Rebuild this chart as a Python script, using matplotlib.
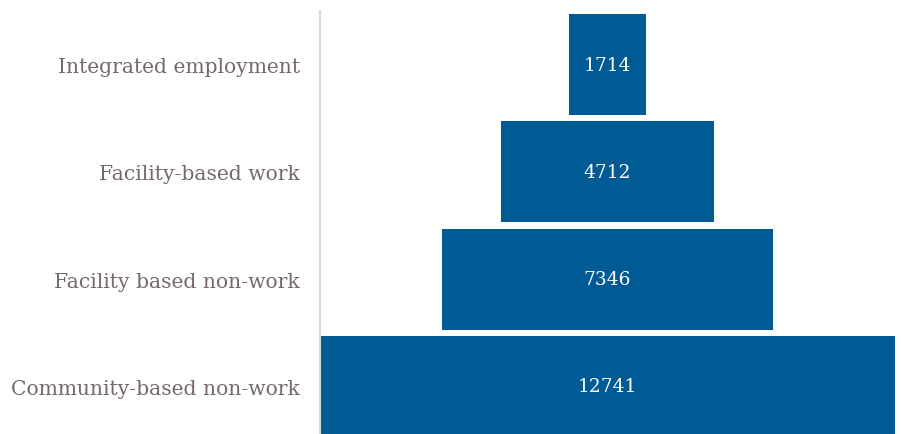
import matplotlib
matplotlib.use("Agg")
import matplotlib.pyplot as plt

categories = ["Integrated employment", "Facility-based work", "Facility based non-work", "Community-based non-work"]
values = [1714, 4712, 7346, 12741]

fig = plt.figure(figsize=(9.01, 4.35), dpi=100)
ax = fig.add_axes([320/901, -6/435, 575/901, 429/435])

vmax = max(values)
ypos = list(range(len(categories)))
lefts = [(vmax - v) / 2 for v in values]
ax.barh(ypos, values, left=lefts, height=0.94, color="#005a94")
for y, v, l in zip(ypos, values, lefts):
    ax.text(l + v / 2, y, str(v), ha="center", va="center", color="white",
            fontsize=13.4, family="DejaVu Serif")

ax.set_xlim(0, vmax)
ax.set_ylim(len(categories) - 0.5, -0.5)
ax.set_yticks(ypos)
ax.set_yticklabels(categories, family="DejaVu Serif", fontsize=14.6, color="#76696b")
ax.tick_params(axis="y", length=0, pad=14.5)
ax.set_xticks([])
for s in ["top", "right", "bottom"]:
    ax.spines[s].set_visible(False)
ax.spines["left"].set_color("#d9d9d9")
ax.spines["left"].set_linewidth(1.5)
ax.set_facecolor("white")
fig.savefig("out.png", dpi=100)
